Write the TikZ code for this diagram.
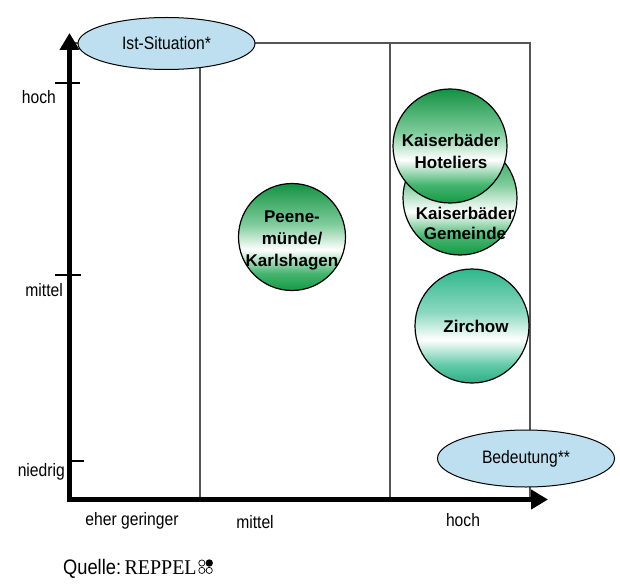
\documentclass[tikz,border=0pt]{standalone}
\usepackage{fontspec}
\setmainfont{Liberation Sans}
\newfontfamily\condfont[FakeStretch=0.87]{Liberation Sans}
\newfontfamily\condserif[FakeStretch=0.95]{Liberation Serif}
\usetikzlibrary{shapes.geometric,arrows.meta}

\definecolor{ballgreen}{HTML}{16A24A}
\definecolor{ballteal}{HTML}{2FB88C}
\definecolor{bubbleblue}{HTML}{BDDFF0}
\definecolor{gridgray}{HTML}{555555}

% green ball shading: dark green at top and bottom, white band below the middle
\pgfdeclareverticalshading{greenball}{100bp}{%
  color(0bp)=(ballgreen!95!black); color(25bp)=(ballgreen!95!black);
  color(33bp)=(ballgreen!80!white); color(44bp)=(white);
  color(56bp)=(ballgreen!55!white); color(75bp)=(ballgreen!90!black);
  color(100bp)=(ballgreen!90!black)}
\pgfdeclareverticalshading{tealball}{100bp}{%
  color(0bp)=(ballteal!95!black); color(25bp)=(ballteal!95!black);
  color(33bp)=(ballteal!75!white); color(44bp)=(white);
  color(56bp)=(ballteal!55!white); color(75bp)=(ballteal);
  color(100bp)=(ballteal)}

\begin{document}
\begin{tikzpicture}[x=1pt,y=-1pt,
  axis/.style={line width=5pt,-{Triangle[length=17pt,width=19pt]}},
  tick/.style={line width=2.2pt},
  grid/.style={draw=gridgray,line width=1.3pt},
  bubble/.style={ellipse,draw=black,line width=1pt,fill=bubbleblue,
    minimum width=177pt,minimum height=52pt,inner sep=0pt,
    font=\condfont\fontsize{18}{20}\selectfont},
  ball/.style={circle,draw=black,line width=1.2pt,minimum size=#1,inner sep=0pt},
  balltext/.style={align=center,inner sep=0pt,
    font=\bfseries\fontsize{17}{22}\selectfont},
  axislabel/.style={inner sep=0pt,font=\condfont\fontsize{18}{20}\selectfont}]

\useasboundingbox (0,0) rectangle (620,585);

% frame corners and column dividers
\coordinate (tl) at (69.5,43);
\coordinate (tr) at (530,43);
\coordinate (br) at (530,499.5);
\coordinate (d1t) at (200,43);
\coordinate (d1b) at (200,499.5);
\coordinate (d2t) at (390,43);
\coordinate (d2b) at (390,499.5);
\draw[grid] (tl) -- (tr) -- (br);
\draw[grid] (d1t) -- (d1b);
\draw[grid] (d2t) -- (d2b);

% axes
\coordinate (origin) at (69.5,502);
\coordinate (ytip) at (69.5,33);
\coordinate (xstart) at (67,499.5);
\coordinate (xtip) at (548,499.5);
\draw[axis] (origin) -- (ytip);
\draw[axis] (xstart) -- (xtip);

% ticks on the vertical axis
\coordinate (t1a) at (55,83);  \coordinate (t1b) at (80,83);
\coordinate (t2a) at (55,275); \coordinate (t2b) at (81,275);
\coordinate (t3a) at (67,461); \coordinate (t3b) at (84,461);
\draw[tick] (t1a) -- (t1b);
\draw[tick] (t2a) -- (t2b);
\draw[tick] (t3a) -- (t3b);

% axis labels
\node[axislabel,anchor=east] (yhoch) at (56,97) {hoch};
\node[axislabel,anchor=east] (ymittel) at (63,290) {mittel};
\node[axislabel,anchor=east] (yniedrig) at (65,472) {niedrig};
\node[axislabel] (xgering) at (132,521) {eher geringer};
\node[axislabel] (xmittel) at (255,522) {mittel};
\node[axislabel] (xhoch) at (463,520) {hoch};

% axis title bubbles
\node[bubble] (ist) at (166.5,43.5) {Ist-Situation*};
\node[bubble,minimum height=57pt] (bed) at (526,458.5) {Bedeutung**};

% stakeholder balls
\node[ball=107pt,shading=greenball] (peene) at (292,237) {};
\node[balltext] (peenetext) at (292,240) {Peene-\\münde/\\Karlshagen};

\node[ball=114pt,shading=greenball] (gemeinde) at (460,198) {};
\node[balltext,font=\bfseries\fontsize{17}{20}\selectfont] (gemeindetext) at (465,223) {Kaiserbäder\\Gemeinde};

\node[ball=114pt,shading=greenball] (hotel) at (450,146) {};
\node[balltext] (hoteltext) at (451,151) {Kaiserbäder\\Hoteliers};

\node[ball=114pt,shading=tealball] (zirchow) at (472,326) {};
\node[balltext] (zirchowtext) at (476,326) {Zirchow};

% source line with the REPPEL mark (2x2 rings, upper right one solid)
\node[inner sep=0pt,anchor=base west,font=\fontsize{21}{24}\selectfont] (quelle) at (63,574)
  {\condfont Quelle:\,\condserif REPPEL};
\coordinate (m1) at ([xshift=5pt,yshift=3.6pt]quelle.base east);
\coordinate (m2) at ([xshift=12.4pt,yshift=3.6pt]quelle.base east);
\coordinate (m3) at ([xshift=5pt,yshift=11pt]quelle.base east);
\coordinate (m4) at ([xshift=12.4pt,yshift=11pt]quelle.base east);
\draw[line width=0.7pt] (m1) circle (3.1pt) (m2) circle (3.1pt) (m3) circle (3.1pt);
\fill (m4) circle (3.7pt);
\end{tikzpicture}
\end{document}
